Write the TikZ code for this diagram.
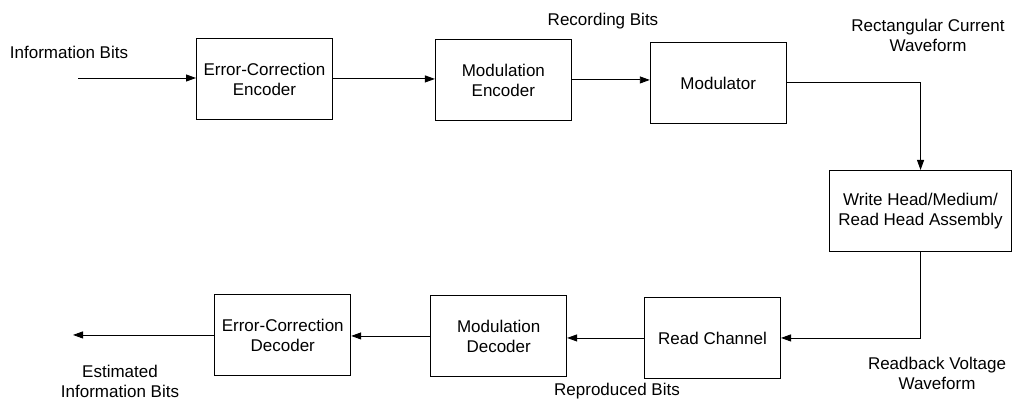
\documentclass[tikz,border=0pt]{standalone}
\usepackage{fontspec}
\setmainfont{Liberation Sans}
\usetikzlibrary{arrows.meta,positioning}

\begin{document}
\begin{tikzpicture}[
  x=1pt, y=1pt,
  block/.style={rectangle, draw, line width=0.9pt, align=center, inner sep=0pt,
              minimum width=136pt, minimum height=81pt, font=\fontsize{17}{20}\selectfont},
  lbl/.style={align=center, inner sep=0pt, font=\fontsize{17}{20}\selectfont},
  arr/.style={-{Triangle[length=10pt, width=7pt]}, line width=0.9pt}
]
\useasboundingbox (0,0) rectangle (1013,-401);

% top row
\node[block, anchor=north west] (ece) at (196,-38) {Error-Correction\\Encoder};
\node[block, right=102pt of ece, yshift=-1pt] (menc) {Modulation\\Encoder};
\node[block, right=78pt of menc, yshift=-3pt] (mod) {Modulator};
\node[block, minimum width=182pt, anchor=north east] (whead) at (1012,-170) {Write Head/Medium/\\Read Head Assembly};

% bottom row
\node[block, anchor=north east] (rch) at (781,-297) {Read Channel};
\node[block, left=77pt of rch, yshift=2pt] (mdec) {Modulation\\Decoder};
\node[block, left=79pt of mdec, yshift=1pt] (ecd) {Error-Correction\\Decoder};

\coordinate (src) at (78,-78);
\coordinate (sink) at (73,-332);

% labels
\node[lbl] (srclbl) at (69,-52) {Information Bits};
\node[lbl] (reclbl) at (603,-21) {Recording Bits};
\node[lbl] (curlbl) at (928,-35) {Rectangular Current\\Waveform};
\node[lbl] (voltlbl) at (937,-373) {Readback Voltage\\Waveform};
\node[lbl] (replbl) at (617,-391) {Reproduced Bits};
\node[lbl] (estlbl) at (120,-381) {Estimated\\Information Bits};

\draw[arr] (src) -- (src -| ece.west);
\draw[arr] (ece.east) -- (ece.east -| menc.west);
\draw[arr] (menc.east) -- (menc.east -| mod.west);
\draw[arr] (mod.east) -| (whead.north);
\draw[arr] (whead.south) |- (rch.east);
\draw[arr] (rch.west) -- (rch.west -| mdec.east);
\draw[arr] (mdec.west) -- (mdec.west -| ecd.east);
\draw[arr] (ecd.west) -- (ecd.west -| sink);
\end{tikzpicture}
\end{document}
